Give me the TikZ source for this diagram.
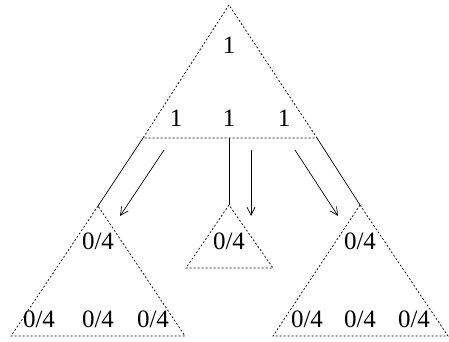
\documentclass[tikz,border=0pt]{standalone}
\usepackage{fontspec}
\setmainfont{Liberation Serif}
\usetikzlibrary{arrows.meta}
\begin{document}
\begin{tikzpicture}[x=1pt,y=-1pt,
  tri/.style={line width=0.7pt,dash pattern=on 2pt off 2pt},
  link/.style={line width=0.7pt},
  arr/.style={line width=0.7pt,-{Straight Barb[length=8pt,width=8pt]}},
  lbl/.style={font=\fontsize{25}{27}\selectfont,inner sep=0pt}]
\useasboundingbox (0,0) rectangle (449,341);
% top triangle
\coordinate (tA) at (229,5);
\coordinate (tL) at (143,138);
\coordinate (tR) at (317,138);
\draw[tri] (tA) -- (tL) -- (tR) -- cycle;
% left triangle
\coordinate (lA) at (98,206);
\coordinate (lL) at (11,336);
\coordinate (lR) at (185,336);
\draw[tri] (lA) -- (lL) -- (lR) -- cycle;
% middle triangle
\coordinate (mA) at (229,205);
\coordinate (mL) at (186,268);
\coordinate (mR) at (273,268);
\draw[tri] (mA) -- (mL) -- (mR) -- cycle;
% right triangle
\coordinate (rA) at (360,205);
\coordinate (rL) at (273,336);
\coordinate (rR) at (448,336);
\draw[tri] (rA) -- (rL) -- (rR) -- cycle;
% solid links
\coordinate (tM) at (229,138);
\draw[link] (tL) -- (lA);
\draw[link] (tM) -- (mA);
\draw[link] (tR) -- (rA);
% arrows
\coordinate (a1s) at (164,150); \coordinate (a1e) at (120,216);
\coordinate (a2s) at (251,150); \coordinate (a2e) at (251,216);
\coordinate (a3s) at (295,150); \coordinate (a3e) at (338,216);
\draw[arr] (a1s) -- (a1e);
\draw[arr] (a2s) -- (a2e);
\draw[arr] (a3s) -- (a3e);
% labels
\node[lbl] (t0) at (229,45) {1};
\node[lbl] (t1) at (176,118) {1};
\node[lbl] (t2) at (229,118) {1};
\node[lbl] (t3) at (284,118) {1};
\node[lbl] (l0) at (98,241) {0/4};
\node[lbl] (l1) at (39,319) {0/4};
\node[lbl] (l2) at (98,319) {0/4};
\node[lbl] (l3) at (153,319) {0/4};
\node[lbl] (m0) at (229,241) {0/4};
\node[lbl] (r0) at (360,241) {0/4};
\node[lbl] (r1) at (307,319) {0/4};
\node[lbl] (r2) at (360,319) {0/4};
\node[lbl] (r3) at (414,319) {0/4};
\end{tikzpicture}
\end{document}
